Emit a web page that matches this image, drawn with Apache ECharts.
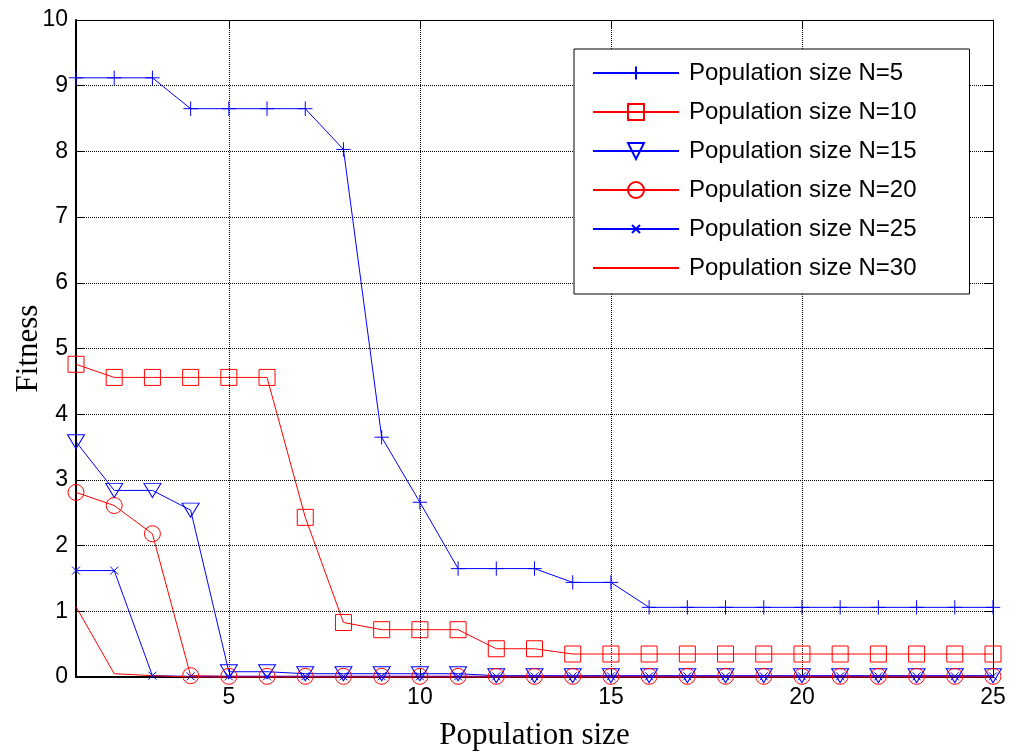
<!DOCTYPE html>
<html>
<head>
<meta charset="utf-8">
<script src="https://cdn.jsdelivr.net/npm/echarts@6/dist/echarts.min.js"></script>
<style>
  html, body { margin: 0; padding: 0; background: #fff; }
  #chart { width: 1021px; height: 753px; }
</style>
</head>
<body>
<div id="chart"></div>
<script>
// Iteration index (x) and best fitness for each population size
const iterations = [1,2,3,4,5,6,7,8,9,10,11,12,13,14,15,16,17,18,19,20,21,22,23,24,25];
const fitN5  = [9.12,9.12,9.12,8.65,8.65,8.65,8.65,8.03,3.65,2.66,1.65,1.65,1.65,1.44,1.44,1.06,1.06,1.06,1.06,1.06,1.06,1.06,1.06,1.06,1.06];
const fitN10 = [4.76,4.56,4.56,4.56,4.56,4.56,2.43,0.83,0.72,0.72,0.72,0.43,0.43,0.35,0.35,0.35,0.35,0.35,0.35,0.35,0.35,0.35,0.35,0.35,0.35];
const fitN15 = [3.58,2.84,2.84,2.54,0.08,0.08,0.05,0.05,0.05,0.05,0.05,0.02,0.02,0.02,0.02,0.02,0.02,0.02,0.02,0.02,0.02,0.02,0.02,0.02,0.02];
const fitN20 = [2.81,2.61,2.18,0.02,0.01,0.01,0.01,0.01,0.01,0.01,0.01,0.01,0.01,0.01,0.01,0.01,0.01,0.01,0.01,0.01,0.01,0.01,0.01,0.01,0.01];
const fitN25 = [1.62,1.62,0.02,0.01,0.01,0.01,0.01,0.01,0.01,0.01,0.01,0.01,0.01,0.01,0.01,0.01,0.01,0.01,0.01,0.01,0.01,0.01,0.01,0.01,0.01];
const fitN30 = [1.07,0.05,0.02,0,0,0,0,0,0,0,0,0,0,0,0,0,0,0,0,0,0,0,0,0,0];

const seriesNames = ['Population size N=5','Population size N=10','Population size N=15',
                     'Population size N=20','Population size N=25','Population size N=30'];
const xTicks = [5,10,15,20,25];

const BLUE = '#0000ff';
const RED = '#ff0000';

const PLUS = 'path://M10,2 L10,18 M2,10 L18,10 M0,0 L0,0 M20,20 L20,20';
// small cross centred in a padded box so it stays small in the legend too
const CROSS = 'path://M5,5 L15,15 M15,5 L5,15 M0,0 L0,0 M20,20 L20,20';
const TRI_DOWN = 'path://M0,0 L20,0 L10,17 Z';

function pairs(ys) { return ys.map((y, i) => [iterations[i], y]); }

function makeSeries(name, ys, color, symbol, size) {
  const noMarker = symbol === 'none';
  return {
    name: name,
    type: 'line',
    data: pairs(ys),
    symbol: symbol,
    symbolSize: size,
    showSymbol: !noMarker,
    clip: false,
    animation: false,
    lineStyle: { color: color, width: 1 },
    itemStyle: noMarker
      ? { color: 'rgba(0,0,0,0)', borderColor: 'rgba(0,0,0,0)', borderWidth: 0 }
      : { color: 'rgba(0,0,0,0)', borderColor: color, borderWidth: 1 },
    emphasis: { disabled: true }
  };
}

const chart = echarts.init(document.getElementById('chart'), null, { renderer: 'canvas' });

const gridLine = { show: true, lineStyle: { color: '#000', width: 1, type: [1, 1] } };
const tickFont = { fontFamily: 'Liberation Sans, Arial, sans-serif', fontSize: 23, color: '#000' };
const titleFont = { fontFamily: 'Liberation Serif, Times New Roman, serif', fontSize: 31, color: '#000' };

chart.setOption({
  backgroundColor: '#fff',
  animation: false,
  grid: { left: 76, right: 28, top: 20, bottom: 76, containLabel: false, outerBoundsMode: 'none' },
  legend: {
    orient: 'vertical',
    left: 574,
    top: 49,
    padding: [12, 53, 14, 18],
    itemWidth: 86,
    itemHeight: 20,
    itemGap: 15,
    backgroundColor: '#fff',
    borderColor: '#000',
    borderWidth: 1,
    borderRadius: 0,
    textStyle: { fontFamily: 'Liberation Sans, Arial, sans-serif', fontSize: 24, color: '#000', lineHeight: 24, padding: [0, 0, 0, 5] },
    data: seriesNames
  },
  xAxis: [
    {
      type: 'value', min: 1, max: 25,
      name: 'Population size', nameLocation: 'middle', nameGap: 43, nameMoveOverlap: false,
      nameTextStyle: titleFont,
      axisLine: { show: true, onZero: false, lineStyle: { color: '#000', width: 2 } },
      axisTick: { show: true, inside: true, length: 8, customValues: xTicks, lineStyle: { color: '#000' } },
      axisLabel: { customValues: xTicks, margin: 9, ...tickFont },
      splitLine: gridLine
    },
    {
      type: 'value', min: 1, max: 25, position: 'top',
      axisLine: { show: true, onZero: false, lineStyle: { color: '#000', width: 1 } },
      axisTick: { show: true, inside: true, length: 8, customValues: xTicks, lineStyle: { color: '#000' } },
      axisLabel: { show: false },
      splitLine: { show: false }
    }
  ],
  yAxis: [
    {
      type: 'value', min: 0, max: 10, interval: 1,
      name: 'Fitness', nameLocation: 'middle', nameGap: 32, nameMoveOverlap: false,
      nameTextStyle: titleFont,
      axisLine: { show: true, onZero: false, lineStyle: { color: '#000', width: 2 } },
      axisTick: { show: true, inside: true, length: 8, lineStyle: { color: '#000' } },
      axisLabel: { margin: 8, ...tickFont },
      splitLine: gridLine
    },
    {
      type: 'value', min: 0, max: 10, interval: 1, position: 'right',
      axisLine: { show: true, onZero: false, lineStyle: { color: '#000', width: 1 } },
      axisTick: { show: true, inside: true, length: 8, lineStyle: { color: '#000' } },
      axisLabel: { show: false },
      splitLine: { show: false }
    }
  ],
  series: [
    makeSeries(seriesNames[0], fitN5, BLUE, PLUS, 18),
    makeSeries(seriesNames[1], fitN10, RED, 'rect', 16),
    makeSeries(seriesNames[2], fitN15, BLUE, TRI_DOWN, [17, 14]),
    makeSeries(seriesNames[3], fitN20, RED, 'circle', 16),
    makeSeries(seriesNames[4], fitN25, BLUE, CROSS, 16),
    makeSeries(seriesNames[5], fitN30, RED, 'none', 0)
  ]
});
</script>
</body>
</html>
